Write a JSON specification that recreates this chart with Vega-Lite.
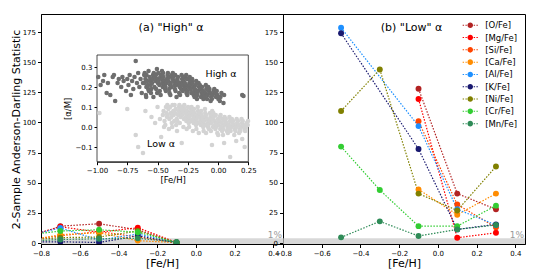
{
"$schema": "https://vega.github.io/schema/vega-lite/v6.json",
"padding": {"left": 9, "top": 13, "right": 0, "bottom": 0},
"background": "white",
"spacing": 0,
"bounds": "flush",
"datasets": {
"ada": [
{"e":"[O/Fe]","x":-0.9,"y":3},{"e":"[O/Fe]","x":-0.7,"y":14},{"e":"[O/Fe]","x":-0.5,"y":16},{"e":"[O/Fe]","x":-0.3,"y":11},{"e":"[O/Fe]","x":-0.1,"y":0.5},
{"e":"[Mg/Fe]","x":-0.9,"y":4},{"e":"[Mg/Fe]","x":-0.7,"y":13.5},{"e":"[Mg/Fe]","x":-0.5,"y":9},{"e":"[Mg/Fe]","x":-0.3,"y":12.7},{"e":"[Mg/Fe]","x":-0.1,"y":0.5},
{"e":"[Si/Fe]","x":-0.9,"y":2},{"e":"[Si/Fe]","x":-0.7,"y":6},{"e":"[Si/Fe]","x":-0.5,"y":9.5},{"e":"[Si/Fe]","x":-0.3,"y":5},{"e":"[Si/Fe]","x":-0.1,"y":0.4},
{"e":"[Ca/Fe]","x":-0.9,"y":1},{"e":"[Ca/Fe]","x":-0.7,"y":7},{"e":"[Ca/Fe]","x":-0.5,"y":8.5},{"e":"[Ca/Fe]","x":-0.3,"y":2},{"e":"[Ca/Fe]","x":-0.1,"y":0.3},
{"e":"[Al/Fe]","x":-0.9,"y":5},{"e":"[Al/Fe]","x":-0.7,"y":12.5},{"e":"[Al/Fe]","x":-0.5,"y":2.5},{"e":"[Al/Fe]","x":-0.3,"y":7.5},{"e":"[Al/Fe]","x":-0.1,"y":0.5},
{"e":"[K/Fe]","x":-0.9,"y":1},{"e":"[K/Fe]","x":-0.7,"y":1},{"e":"[K/Fe]","x":-0.5,"y":0.5},{"e":"[K/Fe]","x":-0.3,"y":6},{"e":"[K/Fe]","x":-0.1,"y":0.3},
{"e":"[Ni/Fe]","x":-0.9,"y":2},{"e":"[Ni/Fe]","x":-0.7,"y":4.5},{"e":"[Ni/Fe]","x":-0.5,"y":5},{"e":"[Ni/Fe]","x":-0.3,"y":10},{"e":"[Ni/Fe]","x":-0.1,"y":0.5},
{"e":"[Cr/Fe]","x":-0.9,"y":6},{"e":"[Cr/Fe]","x":-0.7,"y":10},{"e":"[Cr/Fe]","x":-0.5,"y":11},{"e":"[Cr/Fe]","x":-0.3,"y":9},{"e":"[Cr/Fe]","x":-0.1,"y":0.5},
{"e":"[Mn/Fe]","x":-0.9,"y":1},{"e":"[Mn/Fe]","x":-0.7,"y":3},{"e":"[Mn/Fe]","x":-0.5,"y":3.5},{"e":"[Mn/Fe]","x":-0.3,"y":4},{"e":"[Mn/Fe]","x":-0.1,"y":0.8}
],
"adb": [
{"e":"[O/Fe]","x":-0.1,"y":128},{"e":"[O/Fe]","x":0.1,"y":41},{"e":"[O/Fe]","x":0.3,"y":28},
{"e":"[Mg/Fe]","x":-0.1,"y":119.5},{"e":"[Mg/Fe]","x":0.1,"y":4.4},{"e":"[Mg/Fe]","x":0.3,"y":8.5},
{"e":"[Si/Fe]","x":-0.1,"y":101},{"e":"[Si/Fe]","x":0.1,"y":32},{"e":"[Si/Fe]","x":0.3,"y":13},
{"e":"[Ca/Fe]","x":-0.1,"y":44.5},{"e":"[Ca/Fe]","x":0.1,"y":23.5},{"e":"[Ca/Fe]","x":0.3,"y":41},
{"e":"[Al/Fe]","x":-0.5,"y":178.6},{"e":"[Al/Fe]","x":-0.1,"y":97},{"e":"[Al/Fe]","x":0.1,"y":28},{"e":"[Al/Fe]","x":0.3,"y":15},
{"e":"[K/Fe]","x":-0.5,"y":174},{"e":"[K/Fe]","x":-0.1,"y":78},{"e":"[K/Fe]","x":0.1,"y":11.3},{"e":"[K/Fe]","x":0.3,"y":15.5},
{"e":"[Ni/Fe]","x":-0.5,"y":109.5},{"e":"[Ni/Fe]","x":-0.3,"y":144},{"e":"[Ni/Fe]","x":-0.1,"y":41},{"e":"[Ni/Fe]","x":0.1,"y":27},{"e":"[Ni/Fe]","x":0.3,"y":63.5},
{"e":"[Cr/Fe]","x":-0.5,"y":80},{"e":"[Cr/Fe]","x":-0.3,"y":44},{"e":"[Cr/Fe]","x":-0.1,"y":14},{"e":"[Cr/Fe]","x":0.1,"y":14},{"e":"[Cr/Fe]","x":0.3,"y":31},
{"e":"[Mn/Fe]","x":-0.5,"y":4.7},{"e":"[Mn/Fe]","x":-0.3,"y":18},{"e":"[Mn/Fe]","x":-0.1,"y":5.8},{"e":"[Mn/Fe]","x":0.1,"y":11.3},{"e":"[Mn/Fe]","x":0.3,"y":15}
],
"hi": [
{"f":-0.99,"a":0.25},{"f":-0.97,"a":0.21},{"f":-0.95,"a":0.23},{"f":-0.94,"a":0.26},{"f":-0.92,"a":0.17},{"f":-0.91,"a":0.22},{"f":-0.89,"a":0.16},{"f":-0.87,"a":0.25},{"f":-0.86,"a":0.26},{"f":-0.85,"a":0.13},{"f":-0.83,"a":0.22},{"f":-0.82,"a":0.24},{"f":-0.8,"a":0.2},{"f":-0.79,"a":0.25},{"f":-0.78,"a":0.23},{"f":-0.76,"a":0.18},{"f":-0.75,"a":0.24},{"f":-0.74,"a":0.21},{"f":-0.73,"a":0.26},{"f":-0.72,"a":0.16},{"f":-0.71,"a":0.23},{"f":-0.7,"a":0.19},{"f":-0.69,"a":0.25},{"f":-0.68,"a":0.33},{"f":-0.67,"a":0.22},{"f":-0.66,"a":0.27},{"f":-0.65,"a":0.2},{"f":-0.64,"a":0.24},{"f":-0.63,"a":0.17},{"f":-0.62,"a":0.22},{"f":-0.61,"a":0.26},
{"f":-0.6,"a":0.24},{"f":-0.592,"a":0.2},{"f":-0.606,"a":0.27},{"f":-0.596,"a":0.16},{"f":-0.609,"a":0.22},
{"f":-0.585,"a":0.23},{"f":-0.577,"a":0.19},{"f":-0.591,"a":0.26},{"f":-0.581,"a":0.21},{"f":-0.594,"a":0.15},
{"f":-0.565,"a":0.25},{"f":-0.557,"a":0.21},{"f":-0.571,"a":0.18},{"f":-0.561,"a":0.23},{"f":-0.574,"a":0.28},
{"f":-0.545,"a":0.22},{"f":-0.537,"a":0.26},{"f":-0.551,"a":0.19},{"f":-0.541,"a":0.24},{"f":-0.554,"a":0.17},
{"f":-0.525,"a":0.2},{"f":-0.517,"a":0.23},{"f":-0.531,"a":0.27},{"f":-0.521,"a":0.25},{"f":-0.534,"a":0.15},
{"f":-0.505,"a":0.29},{"f":-0.497,"a":0.22},{"f":-0.511,"a":0.19},{"f":-0.501,"a":0.24},{"f":-0.514,"a":0.26},{"f":-0.503,"a":0.17},
{"f":-0.485,"a":0.21},{"f":-0.477,"a":0.25},{"f":-0.491,"a":0.23},{"f":-0.481,"a":0.18},{"f":-0.494,"a":0.27},
{"f":-0.465,"a":0.24},{"f":-0.457,"a":0.2},{"f":-0.471,"a":0.26},{"f":-0.461,"a":0.22},{"f":-0.474,"a":0.16},{"f":-0.463,"a":0.28},
{"f":-0.445,"a":0.23},{"f":-0.437,"a":0.19},{"f":-0.451,"a":0.25},{"f":-0.441,"a":0.21},{"f":-0.454,"a":0.27},
{"f":-0.425,"a":0.22},{"f":-0.417,"a":0.26},{"f":-0.431,"a":0.18},{"f":-0.421,"a":0.24},{"f":-0.434,"a":0.2},
{"f":-0.405,"a":0.25},{"f":-0.397,"a":0.21},{"f":-0.411,"a":0.23},{"f":-0.401,"a":0.17},{"f":-0.414,"a":0.27},{"f":-0.403,"a":0.19},
{"f":-0.385,"a":0.2},{"f":-0.377,"a":0.24},{"f":-0.391,"a":0.22},{"f":-0.381,"a":0.26},{"f":-0.394,"a":0.16},
{"f":-0.365,"a":0.23},{"f":-0.357,"a":0.19},{"f":-0.371,"a":0.25},{"f":-0.361,"a":0.21},{"f":-0.374,"a":0.27},
{"f":-0.345,"a":0.21},{"f":-0.337,"a":0.24},{"f":-0.351,"a":0.18},{"f":-0.341,"a":0.22},{"f":-0.354,"a":0.26},{"f":-0.343,"a":0.15},
{"f":-0.325,"a":0.22},{"f":-0.317,"a":0.2},{"f":-0.331,"a":0.25},{"f":-0.321,"a":0.17},{"f":-0.334,"a":0.23},
{"f":-0.305,"a":0.19},{"f":-0.297,"a":0.24},{"f":-0.311,"a":0.21},{"f":-0.301,"a":0.26},{"f":-0.314,"a":0.16},{"f":-0.303,"a":0.22},
{"f":-0.285,"a":0.23},{"f":-0.277,"a":0.2},{"f":-0.291,"a":0.18},{"f":-0.281,"a":0.25},{"f":-0.294,"a":0.21},
{"f":-0.265,"a":0.21},{"f":-0.257,"a":0.24},{"f":-0.271,"a":0.19},{"f":-0.261,"a":0.17},{"f":-0.274,"a":0.22},{"f":-0.263,"a":0.26},
{"f":-0.245,"a":0.2},{"f":-0.237,"a":0.22},{"f":-0.251,"a":0.18},{"f":-0.241,"a":0.24},{"f":-0.254,"a":0.16},
{"f":-0.225,"a":0.19},{"f":-0.217,"a":0.23},{"f":-0.231,"a":0.21},{"f":-0.221,"a":0.17},{"f":-0.234,"a":0.25},
{"f":-0.205,"a":0.2},{"f":-0.197,"a":0.18},{"f":-0.211,"a":0.22},{"f":-0.201,"a":0.16},{"f":-0.214,"a":0.24},
{"f":-0.185,"a":0.21},{"f":-0.177,"a":0.17},{"f":-0.191,"a":0.19},{"f":-0.181,"a":0.23},{"f":-0.194,"a":0.15},
{"f":-0.165,"a":0.18},{"f":-0.157,"a":0.2},{"f":-0.171,"a":0.16},{"f":-0.161,"a":0.22},{"f":-0.174,"a":0.14},
{"f":-0.145,"a":0.19},{"f":-0.137,"a":0.17},{"f":-0.151,"a":0.21},{"f":-0.141,"a":0.15},
{"f":-0.125,"a":0.18},{"f":-0.117,"a":0.16},{"f":-0.131,"a":0.2},{"f":-0.121,"a":0.14},
{"f":-0.105,"a":0.17},{"f":-0.097,"a":0.19},{"f":-0.111,"a":0.15},{"f":-0.101,"a":0.21},
{"f":-0.085,"a":0.16},{"f":-0.077,"a":0.18},{"f":-0.091,"a":0.14},{"f":-0.081,"a":0.2},
{"f":-0.065,"a":0.17},{"f":-0.057,"a":0.15},{"f":-0.071,"a":0.19},{"f":-0.061,"a":0.13},
{"f":-0.045,"a":0.16},{"f":-0.037,"a":0.18},{"f":-0.051,"a":0.14},
{"f":-0.025,"a":0.17},{"f":-0.017,"a":0.15},{"f":-0.031,"a":0.19},
{"f":-0.005,"a":0.16},{"f":0.003,"a":0.14},{"f":-0.011,"a":0.18},
{"f":0.02,"a":0.15},{"f":0.028,"a":0.17},{"f":0.05,"a":0.16},{"f":0.045,"a":0.12},{"f":0.015,"a":0.13},{"f":0.2,"a":0.16},{"f":0.21,"a":0.155}
],
"lo": [
{"f":-0.98,"a":0.07},{"f":-0.75,"a":0.09},{"f":-0.6,"a":0.08},{"f":-0.68,"a":-0.04},{"f":-0.66,"a":-0.1},{"f":-0.62,"a":-0.13},{"f":-0.55,"a":0.05},{"f":-0.52,"a":0.02},{"f":-0.5,"a":0.1},{"f":-0.48,"a":0.04},{"f":-0.47,"a":-0.05},{"f":0.1,"a":-0.15},{"f":0.22,"a":-0.1},{"f":0.2,"a":-0.06},{"f":0.15,"a":-0.07},{"f":-0.3,"a":-0.08},{"f":-0.05,"a":-0.09},{"f":0.05,"a":-0.08},
{"f":-0.45,"a":0.08},{"f":-0.442,"a":0.03},{"f":-0.456,"a":0.06},{"f":-0.446,"a":0.0},
{"f":-0.43,"a":0.1},{"f":-0.422,"a":0.05},{"f":-0.436,"a":0.01},{"f":-0.426,"a":0.07},
{"f":-0.41,"a":0.09},{"f":-0.402,"a":0.04},{"f":-0.416,"a":0.06},{"f":-0.406,"a":-0.01},{"f":-0.419,"a":0.11},
{"f":-0.39,"a":0.07},{"f":-0.382,"a":0.02},{"f":-0.396,"a":0.1},{"f":-0.386,"a":0.05},
{"f":-0.37,"a":0.08},{"f":-0.362,"a":0.03},{"f":-0.376,"a":0.11},{"f":-0.366,"a":0.06},{"f":-0.379,"a":0.0},
{"f":-0.35,"a":0.09},{"f":-0.342,"a":0.04},{"f":-0.356,"a":0.07},{"f":-0.346,"a":0.01},{"f":-0.359,"a":0.11},
{"f":-0.33,"a":0.06},{"f":-0.322,"a":0.1},{"f":-0.336,"a":0.03},{"f":-0.326,"a":0.08},{"f":-0.339,"a":-0.02},
{"f":-0.31,"a":0.05},{"f":-0.302,"a":0.09},{"f":-0.316,"a":0.02},{"f":-0.306,"a":0.07},{"f":-0.319,"a":0.11},
{"f":-0.29,"a":0.08},{"f":-0.282,"a":0.04},{"f":-0.296,"a":0.06},{"f":-0.286,"a":0.0},{"f":-0.299,"a":0.1},
{"f":-0.27,"a":0.07},{"f":-0.262,"a":0.03},{"f":-0.276,"a":0.09},{"f":-0.266,"a":0.05},{"f":-0.279,"a":0.11},
{"f":-0.25,"a":0.06},{"f":-0.242,"a":0.02},{"f":-0.256,"a":0.08},{"f":-0.246,"a":0.04},{"f":-0.259,"a":-0.01},{"f":-0.248,"a":0.1},
{"f":-0.23,"a":0.07},{"f":-0.222,"a":0.03},{"f":-0.236,"a":0.05},{"f":-0.226,"a":0.09},{"f":-0.239,"a":0.0},
{"f":-0.21,"a":0.06},{"f":-0.202,"a":0.02},{"f":-0.216,"a":0.08},{"f":-0.206,"a":0.04},{"f":-0.219,"a":0.1},{"f":-0.208,"a":-0.02},
{"f":-0.19,"a":0.05},{"f":-0.182,"a":0.01},{"f":-0.196,"a":0.07},{"f":-0.186,"a":0.03},{"f":-0.199,"a":0.09},
{"f":-0.17,"a":0.06},{"f":-0.162,"a":0.02},{"f":-0.176,"a":0.04},{"f":-0.166,"a":0.08},{"f":-0.179,"a":-0.01},{"f":-0.168,"a":0.1},
{"f":-0.15,"a":0.05},{"f":-0.142,"a":0.01},{"f":-0.156,"a":0.07},{"f":-0.146,"a":0.03},{"f":-0.159,"a":-0.03},
{"f":-0.13,"a":0.04},{"f":-0.122,"a":0.0},{"f":-0.136,"a":0.06},{"f":-0.126,"a":0.02},{"f":-0.139,"a":0.08},
{"f":-0.11,"a":0.05},{"f":-0.102,"a":0.01},{"f":-0.116,"a":0.03},{"f":-0.106,"a":0.07},{"f":-0.119,"a":-0.02},{"f":-0.108,"a":0.09},
{"f":-0.09,"a":0.04},{"f":-0.082,"a":0.0},{"f":-0.096,"a":0.06},{"f":-0.086,"a":0.02},{"f":-0.099,"a":-0.03},
{"f":-0.07,"a":0.03},{"f":-0.062,"a":0.05},{"f":-0.076,"a":-0.01},{"f":-0.066,"a":0.07},{"f":-0.079,"a":0.01},
{"f":-0.05,"a":0.04},{"f":-0.042,"a":0.0},{"f":-0.056,"a":0.02},{"f":-0.046,"a":0.06},{"f":-0.059,"a":-0.02},{"f":-0.048,"a":0.08},
{"f":-0.03,"a":0.03},{"f":-0.022,"a":-0.01},{"f":-0.036,"a":0.05},{"f":-0.026,"a":0.01},{"f":-0.039,"a":0.07},
{"f":-0.01,"a":0.02},{"f":-0.002,"a":0.04},{"f":-0.016,"a":0.0},{"f":-0.006,"a":-0.03},{"f":-0.019,"a":0.06},
{"f":0.01,"a":0.03},{"f":0.018,"a":-0.01},{"f":0.004,"a":0.01},{"f":0.014,"a":0.05},{"f":0.001,"a":-0.04},
{"f":0.03,"a":0.02},{"f":0.038,"a":0.04},{"f":0.024,"a":0.0},{"f":0.034,"a":-0.02},{"f":0.021,"a":0.06},
{"f":0.05,"a":0.01},{"f":0.058,"a":0.03},{"f":0.044,"a":-0.01},{"f":0.054,"a":0.05},{"f":0.041,"a":-0.04},
{"f":0.07,"a":0.02},{"f":0.078,"a":0.0},{"f":0.064,"a":0.04},{"f":0.074,"a":-0.02},
{"f":0.09,"a":0.01},{"f":0.098,"a":0.03},{"f":0.084,"a":-0.01},{"f":0.094,"a":0.05},{"f":0.081,"a":-0.03},
{"f":0.11,"a":0.0},{"f":0.118,"a":0.02},{"f":0.104,"a":-0.02},{"f":0.114,"a":0.04},
{"f":0.13,"a":0.01},{"f":0.138,"a":-0.01},{"f":0.124,"a":0.03},{"f":0.134,"a":-0.04},
{"f":0.15,"a":0.0},{"f":0.158,"a":0.02},{"f":0.144,"a":-0.02},{"f":0.154,"a":0.04},
{"f":0.17,"a":0.01},{"f":0.178,"a":-0.01},{"f":0.164,"a":0.03},{"f":0.174,"a":-0.03},
{"f":0.19,"a":0.0},{"f":0.198,"a":0.02},{"f":0.184,"a":-0.02},{"f":0.194,"a":0.04},
{"f":0.21,"a":0.01},{"f":0.218,"a":-0.01},{"f":0.204,"a":0.03},
{"f":0.23,"a":0.0},{"f":0.238,"a":0.02},{"f":0.224,"a":-0.02},
{"f":0.245,"a":0.01},{"f":0.248,"a":0.03}
]
},
"hconcat": [
{
"width": 242, "height": 230,
"layer": [
{
"encoding": {
  "x": {"field": "x", "type": "quantitative", "scale": {"domain": [-0.8, 0.45], "nice": false, "zero": false},
        "axis": {"title": "[Fe/H]", "values": [-0.8,-0.6,-0.4,-0.2,0,0.2,0.4], "format": ".1f", "titlePadding": 1}},
  "y": {"field": "y", "type": "quantitative", "scale": {"domain": [-0.8, 190], "nice": false, "zero": false},
        "axis": {"title": "2-Sample Anderson-Darling Statistic", "values": [0,25,50,75,100,125,150,175], "titlePadding": 1}}
},
"layer": [
{"data": {"values": [{"x": -0.8, "x2": 0.45, "y": -0.8, "y2": 3.9}]},
 "mark": {"type": "rect", "fill": "#c8c8c8", "opacity": 0.7},
 "encoding": {"x2": {"field": "x2"}, "y2": {"field": "y2"}}},
{"data": {"name": "ada"},
 "mark": {"type": "line", "strokeDash": [1.5, 1.5], "strokeWidth": 1.2, "clip": true},
 "encoding": {
  "stroke": {"field": "e", "type": "nominal", "legend": null,
   "scale": {"domain": ["[Al/Fe]","[Ca/Fe]","[Cr/Fe]","[K/Fe]","[Mg/Fe]","[Mn/Fe]","[Ni/Fe]","[O/Fe]","[Si/Fe]"],
             "range": ["#1e90ff","#ff8c00","#32cd32","#191970","#ff0000","#2e8b57","#808000","#b22222","#ff4500"]}},
  "order": {"field": "x", "type": "quantitative"}
 }},
{"data": {"name": "ada"},
 "mark": {"type": "point", "filled": true, "size": 35, "opacity": 1, "clip": true},
 "encoding": {
  "color": {"field": "e", "type": "nominal", "legend": null,
   "scale": {"domain": ["[O/Fe]","[Mg/Fe]","[Si/Fe]","[Ca/Fe]","[Al/Fe]","[K/Fe]","[Ni/Fe]","[Cr/Fe]","[Mn/Fe]"],
             "range": ["#b22222","#ff0000","#ff4500","#ff8c00","#1e90ff","#191970","#808000","#32cd32","#2e8b57"]}}
 }},
{"data": {"values": [{"x": -0.128, "y": 178, "t": "(a) \"High\" α"}]},
 "mark": {"type": "text", "fontSize": 11, "align": "center", "baseline": "middle", "color": "black"},
 "encoding": {"text": {"field": "t"}}},
{"data": {"values": [{"x": 0.445, "y": 4.5, "t": "1%"}]},
 "mark": {"type": "text", "fontSize": 9, "align": "right", "baseline": "alphabetic", "color": "#999999"},
 "encoding": {"text": {"field": "t"}}}
]
},
{
"encoding": {
  "x": {"field": "f", "type": "quantitative", "scale": {"domain": [-1, 0.25], "range": [56, 207.3], "nice": false, "zero": false},
        "axis": {"orient": "bottom", "offset": -82.3, "title": "[Fe/H]", "values": [-1,-0.75,-0.5,-0.25,0,0.25], "format": ".2f",
                 "labelFontSize": 7, "titleFontSize": 8.5, "tickSize": 3, "titlePadding": 2}},
  "y": {"field": "a", "type": "quantitative", "scale": {"domain": [-0.1735, 0.36], "range": [147.7, 41], "nice": false, "zero": false},
        "axis": {"orient": "left", "offset": -56, "title": "[α/M]", "values": [-0.1,0,0.1,0.2,0.3], "format": ".1f",
                 "labelFontSize": 7, "titleFontSize": 8.5, "tickSize": 3, "titlePadding": 3}}
},
"layer": [
{"data": {"values": [{"f": -1, "f2": 0.25, "a": -0.1735, "a2": 0.36}]},
 "mark": {"type": "rect", "fill": "white", "stroke": "#222222", "strokeWidth": 0.8},
 "encoding": {"x2": {"field": "f2"}, "y2": {"field": "a2"}}},
{"data": {"name": "lo"},
 "mark": {"type": "circle", "size": 21, "color": "#d3d3d3", "opacity": 1}},
{"data": {"name": "hi"},
 "mark": {"type": "circle", "size": 21, "color": "#6e6e6e", "opacity": 1}},
{"data": {"values": [{"f": 0.025, "a": 0.264, "t": "High α"}, {"f": -0.471, "a": -0.087, "t": "Low α"}]},
 "mark": {"type": "text", "fontSize": 9.5, "align": "center", "baseline": "middle", "color": "black"},
 "encoding": {"text": {"field": "t"}}}
]
}
],
"resolve": {"scale": {"x": "independent", "y": "independent"}}
},
{
"width": 242, "height": 230,
"encoding": {
  "x": {"field": "x", "type": "quantitative", "scale": {"domain": [-0.8, 0.45], "nice": false, "zero": false},
        "axis": {"title": "[Fe/H]", "values": [-0.8,-0.6,-0.4,-0.2,0,0.2,0.4], "format": ".1f", "titlePadding": 1}},
  "y": {"field": "y", "type": "quantitative", "scale": {"domain": [-0.8, 190], "nice": false, "zero": false},
        "axis": {"title": null, "values": [0,25,50,75,100,125,150,175]}}
},
"layer": [
{"data": {"values": [{"x": -0.8, "x2": 0.45, "y": -0.8, "y2": 3.9}]},
 "mark": {"type": "rect", "fill": "#c8c8c8", "opacity": 0.7},
 "encoding": {"x2": {"field": "x2"}, "y2": {"field": "y2"}}},
{"data": {"name": "adb"},
 "mark": {"type": "line", "strokeDash": [1.5, 1.5], "strokeWidth": 1.2, "clip": true},
 "encoding": {
  "stroke": {"field": "e", "type": "nominal", "legend": null,
   "scale": {"domain": ["[Al/Fe]","[Ca/Fe]","[Cr/Fe]","[K/Fe]","[Mg/Fe]","[Mn/Fe]","[Ni/Fe]","[O/Fe]","[Si/Fe]"],
             "range": ["#1e90ff","#ff8c00","#32cd32","#191970","#ff0000","#2e8b57","#808000","#b22222","#ff4500"]}},
  "order": {"field": "x", "type": "quantitative"}
 }},
{"data": {"name": "adb"},
 "mark": {"type": "point", "filled": true, "size": 35, "opacity": 1, "clip": true},
 "encoding": {
  "color": {"field": "e", "type": "nominal",
   "scale": {"domain": ["[O/Fe]","[Mg/Fe]","[Si/Fe]","[Ca/Fe]","[Al/Fe]","[K/Fe]","[Ni/Fe]","[Cr/Fe]","[Mn/Fe]"],
             "range": ["#b22222","#ff0000","#ff4500","#ff8c00","#1e90ff","#191970","#808000","#32cd32","#2e8b57"]},
   "legend": {"orient": "top-right", "offset": 7, "title": null, "padding": 0,
     "symbolType": "M0.7,0A0.7,0.7,0,1,1,-0.7,0A0.7,0.7,0,1,1,0.7,0Z M-1.9,-0.125L-1.55,-0.125L-1.55,0.125L-1.9,0.125Z M-1.2,-0.125L-0.85,-0.125L-0.85,0.125L-1.2,0.125Z M0.85,-0.125L1.2,-0.125L1.2,0.125L0.85,0.125Z M1.55,-0.125L1.9,-0.125L1.9,0.125L1.55,0.125Z",
     "symbolSize": 64, "symbolStrokeWidth": 0, "symbolOpacity": 1, "labelFontSize": 8.5, "labelFont": "DejaVu Sans", "labelColor": "black",
     "labelOffset": 10.7, "rowPadding": 3.3}}
 }},
{"data": {"values": [{"x": -0.136, "y": 178, "t": "(b) \"Low\" α"}]},
 "mark": {"type": "text", "fontSize": 11, "align": "center", "baseline": "middle", "color": "black"},
 "encoding": {"text": {"field": "t"}}},
{"data": {"values": [{"x": 0.445, "y": 4.5, "t": "1%"}]},
 "mark": {"type": "text", "fontSize": 9, "align": "right", "baseline": "alphabetic", "color": "#999999"},
 "encoding": {"text": {"field": "t"}}}
]
}
],
"resolve": {"scale": {"color": "independent", "stroke": "independent"}},
"config": {
 "font": "DejaVu Sans",
 "axis": {"labelFont": "DejaVu Sans", "titleFont": "DejaVu Sans", "labelFontSize": 7, "titleFontSize": 11, "titleFontWeight": "normal",
          "labelColor": "black", "titleColor": "black", "tickColor": "black", "domainColor": "black", "grid": false,
          "tickSize": 3.5, "labelPadding": 2, "labelFlush": false, "labelOverlap": false},
 "view": {"stroke": "black", "strokeWidth": 1},
 "text": {"font": "DejaVu Sans"}
}
}
